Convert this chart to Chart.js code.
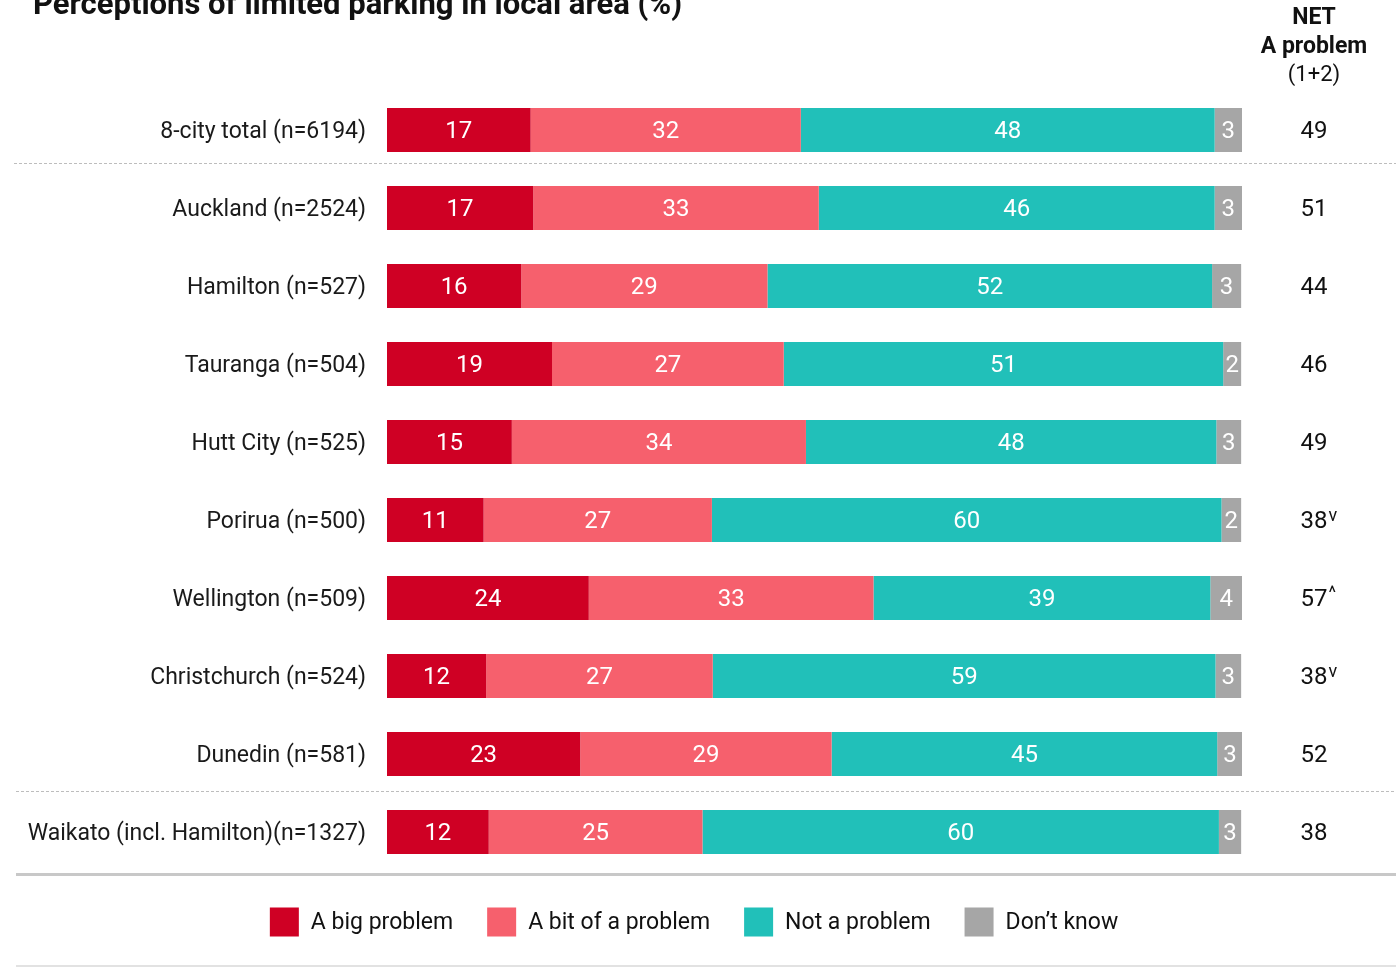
<!DOCTYPE html>
<html>
<head>
<meta charset="utf-8">
<script src="https://cdn.jsdelivr.net/npm/chart.js@4.4.1/dist/chart.umd.min.js"></script>
<style>
    html, body { margin: 0; padding: 0; background: #ffffff; }
    #wrap { width: 1396px; height: 967px; position: relative; }
</style>
</head>
<body>
<div id="wrap"><canvas id="parkingChart" width="1396" height="967"></canvas></div>
<script>
// categories
var areas = [
    '8-city total (n=6194)',
    'Auckland (n=2524)',
    'Hamilton (n=527)',
    'Tauranga (n=504)',
    'Hutt City (n=525)',
    'Porirua (n=500)',
    'Wellington (n=509)',
    'Christchurch (n=524)',
    'Dunedin (n=581)',
    'Waikato (incl. Hamilton)(n=1327)'
];

// series (%)
var bigProblem = [16.8, 17.1, 15.7, 19.3, 14.6, 11.3, 23.6, 11.6, 22.6, 11.9];
var bitProblem = [31.6, 33.4, 28.8, 27.1, 34.4, 26.7, 33.3, 26.5, 29.4, 25.0];
var notProblem = [48.4, 46.3, 52.0, 51.4, 48.0, 59.6, 39.4, 58.8, 45.1, 60.4];
var dontKnow   = [3.2, 3.2, 3.4, 2.1, 2.9, 2.3, 3.7, 3.0, 3.0, 2.6];

// NET a problem (1+2) column
var netProblem = [49, 51, 44, 46, 49, 38, 57, 38, 52, 38];
var netMarks   = ['', '', '', '', '', 'v', '^', 'v', '', ''];

var FONT = 'Roboto, "Noto Sans", sans-serif';

document.addEventListener('DOMContentLoaded', function () {
    var ctx = document.getElementById('parkingChart').getContext('2d');

    var extrasPlugin = {
        id: 'extras',
        beforeDraw: function (chart) {
            var c = chart.ctx;
            c.save();
            c.fillStyle = '#ffffff';
            c.fillRect(0, 0, chart.width, chart.height);
            c.restore();
        },
        afterDatasetsDraw: function (chart) {
            var c = chart.ctx;
            c.save();
            c.fillStyle = '#ffffff';
            c.font = '24px ' + FONT;
            c.textAlign = 'center';
            c.textBaseline = 'middle';
            chart.data.datasets.forEach(function (ds, di) {
                var meta = chart.getDatasetMeta(di);
                meta.data.forEach(function (bar, i) {
                    var cx = (bar.x + bar.base) / 2;
                    c.fillText(String(Math.round(ds.data[i])), cx, bar.y + 2);
                });
            });
            c.restore();
        },
        afterDraw: function (chart) {
            var c = chart.ctx;
            var yScale = chart.scales.y;
            c.save();

            // title (cut at top edge like the source)
            c.fillStyle = '#111111';
            c.font = 'bold 31px ' + FONT;
            c.textAlign = 'left';
            c.textBaseline = 'alphabetic';
            c.fillText('Perceptions of limited parking in local area (%)', 33, 14);

            // NET header
            var netX = 1314;
            c.textAlign = 'center';
            c.textBaseline = 'middle';
            c.font = 'bold 23px ' + FONT;
            c.fillText('NET', netX, 18);
            c.fillText('A problem', netX, 47);
            c.font = '22px ' + FONT;
            c.fillText('(1+2)', netX, 75);

            // NET values
            netProblem.forEach(function (v, i) {
                var y = yScale.getPixelForValue(i) + 2;
                c.font = '24px ' + FONT;
                c.textAlign = 'center';
                c.fillStyle = '#111111';
                var txt = String(v);
                c.fillText(txt, netX, y);
                if (netMarks[i]) {
                    var w = c.measureText(txt).width;
                    c.font = '18px ' + FONT;
                    c.textAlign = 'left';
                    c.fillText(netMarks[i], netX + w / 2 + 1, y - 6);
                }
            });

            // separator lines
            c.strokeStyle = '#bdbdbd';
            c.lineWidth = 1;
            c.setLineDash([3, 2]);
            c.beginPath();
            c.moveTo(14, 163.5); c.lineTo(1396, 163.5);
            c.moveTo(16, 791.5); c.lineTo(1396, 791.5);
            c.stroke();
            c.setLineDash([]);
            c.strokeStyle = '#c8c8c8';
            c.lineWidth = 3;
            c.beginPath();
            c.moveTo(16, 874.5); c.lineTo(1396, 874.5);
            c.stroke();
            c.strokeStyle = '#e2e2e2';
            c.lineWidth = 2;
            c.beginPath();
            c.moveTo(16, 966); c.lineTo(1396, 966);
            c.stroke();

            // legend
            c.font = '23px ' + FONT;
            c.textBaseline = 'middle';
            c.textAlign = 'left';
            var box = 29, textGap = 12, itemGap = 34;
            var items = chart.data.datasets.map(function (ds) {
                return { label: ds.label, color: ds.backgroundColor, w: c.measureText(ds.label).width };
            });
            var total = 0;
            items.forEach(function (it, i) {
                total += box + textGap + it.w + (i < items.length - 1 ? itemGap : 0);
            });
            var lx = 694 - total / 2;
            var ly = 922;
            items.forEach(function (it) {
                c.fillStyle = it.color;
                c.fillRect(lx, ly - box / 2, box, box);
                c.fillStyle = '#111111';
                c.fillText(it.label, lx + box + textGap, ly + 1);
                lx += box + textGap + it.w + itemGap;
            });

            c.restore();
        }
    };

    var common = { barPercentage: 44 / 78, categoryPercentage: 1, borderWidth: 0 };

    var parkingChart = new Chart(ctx, {
        type: 'bar',
        data: {
            labels: areas,
            datasets: [
                Object.assign({ label: 'A big problem', data: bigProblem, backgroundColor: '#cf0024' }, common),
                Object.assign({ label: 'A bit of a problem', data: bitProblem, backgroundColor: '#f6606d' }, common),
                Object.assign({ label: 'Not a problem', data: notProblem, backgroundColor: '#21c0b9' }, common),
                Object.assign({ label: 'Don\u2019t know', data: dontKnow, backgroundColor: '#a6a6a6' }, common)
            ]
        },
        options: {
            indexAxis: 'y',
            responsive: false,
            animation: false,
            layout: { padding: { top: 91, bottom: 96, right: 154, left: 0 } },
            scales: {
                x: {
                    stacked: true,
                    display: false,
                    min: 0,
                    max: 100
                },
                y: {
                    stacked: true,
                    grid: { display: false, drawTicks: false, tickLength: 0 },
                    border: { display: false },
                    ticks: {
                        padding: 21,
                        labelOffset: 2,
                        color: '#1a1a1a',
                        font: { family: FONT, size: 23 }
                    },
                    afterFit: function (scale) { scale.width = 387; }
                }
            },
            plugins: {
                legend: { display: false },
                tooltip: { enabled: false }
            }
        },
        plugins: [extrasPlugin]
    });
});
</script>
</body>
</html>
